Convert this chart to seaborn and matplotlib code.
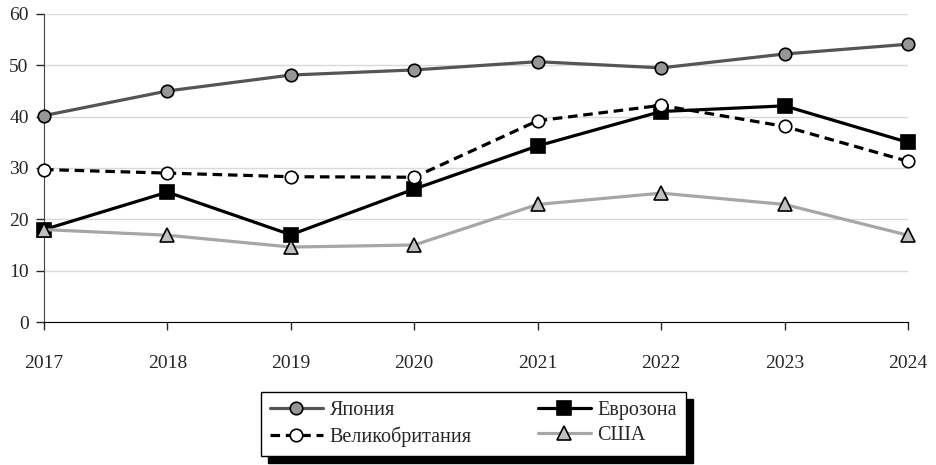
import matplotlib
matplotlib.use("Agg")
from matplotlib import pyplot as plt
import pandas as pd
import seaborn as sns

years = [2017, 2018, 2019, 2020, 2021, 2022, 2023, 2024]
japan = [40.2, 45.0, 48.1, 49.1, 50.7, 49.5, 52.2, 54.1]
eurozone = [18.0, 25.3, 17.0, 25.9, 34.3, 41.0, 42.1, 35.0]
uk = [29.7, 29.0, 28.3, 28.2, 39.2, 42.2, 38.1, 31.3]
usa = [18.0, 16.9, 14.6, 15.0, 22.9, 25.1, 22.9, 16.9]

labels = ["Япония", "Еврозона", "Великобритания", "США"]

sns.set_style("white")
plt.rcParams["font.family"] = ["Liberation Serif", "DejaVu Serif"]

df = pd.DataFrame({"year": years * 4,
                   "value": japan + eurozone + uk + usa,
                   "series": sum([[l] * len(years) for l in labels], [])})

styles = {
    "Япония": dict(color="#555555", marker="o", mfc="#969696", ms=9, ls="-"),
    "Еврозона": dict(color="black", marker="s", mfc="black", ms=9.5, ls="-"),
    "Великобритания": dict(color="black", marker="o", mfc="white", ms=9, ls=(0, (3, 1.8))),
    "США": dict(color="#a6a6a6", marker="^", mfc="#c0c0c0", ms=10.5, ls="-"),
}

fig = plt.figure(figsize=(9.36, 4.65), dpi=100)
ax = fig.add_axes([0.047, 0.3075, 0.923, 0.6625])

handles = {}
for name in labels:
    st = styles[name]
    sub = df[df["series"] == name]
    sns.lineplot(data=sub, x="year", y="value", ax=ax, color=st["color"],
                 linestyle=st["ls"], linewidth=2.3, marker=st["marker"],
                 markersize=st["ms"], markerfacecolor=st["mfc"],
                 markeredgecolor="black", markeredgewidth=1.2,
                 clip_on=False, zorder=3)
    handles[name] = ax.lines[-1]

ax.set_xlim(2017, 2024)
ax.set_ylim(0, 60)
ax.set_xticks(years)
ax.set_yticks(range(0, 61, 10))
ax.set_xlabel("")
ax.set_ylabel("")
ax.yaxis.grid(True, color="#d9d9d9", linewidth=1)
ax.set_axisbelow(True)
for side in ["top", "right"]:
    ax.spines[side].set_visible(False)
ax.spines["left"].set_color("#404040")
ax.spines["bottom"].set_color("black")
ax.tick_params(axis="x", direction="out", length=6, width=1, pad=18,
               labelsize=14, bottom=True)
ax.tick_params(axis="y", direction="out", length=6, width=1, pad=5,
               labelsize=14, left=True)

order = ["Япония", "Великобритания", "Еврозона", "США"]
fig.legend([handles[n] for n in order], order, loc="center",
           bbox_to_anchor=(0.506, 0.088), ncol=2, frameon=True,
           fancybox=False, edgecolor="black", fontsize=14.5,
           handlelength=2.6, columnspacing=3.3, borderpad=0.45,
           labelspacing=0.3, handletextpad=0.35, borderaxespad=0,
           shadow={"color": "black", "alpha": 1, "ox": 5, "oy": -5})
leg = fig.legends[0]
leg.get_frame().set_linewidth(1)
leg.get_frame().set_alpha(1)

fig.savefig("out.png", dpi=100)
